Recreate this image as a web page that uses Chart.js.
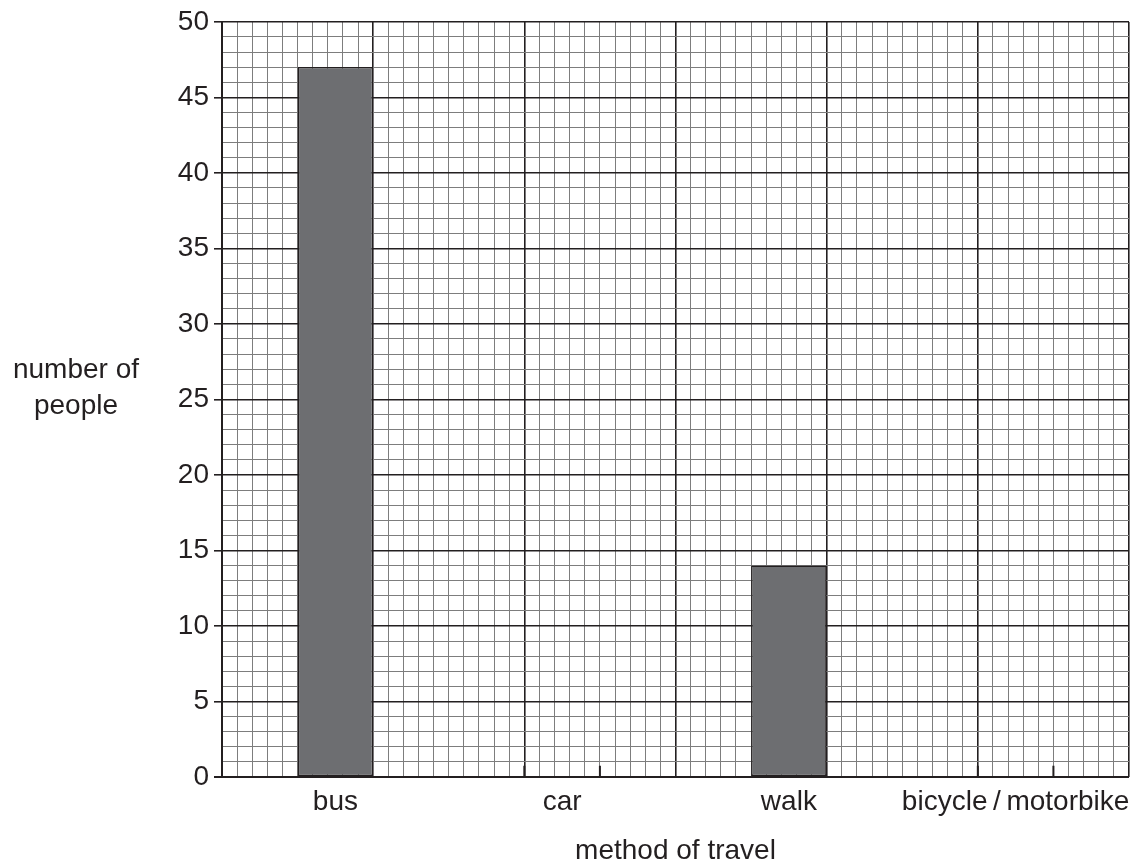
<!DOCTYPE html>
<html>
<head>
<meta charset="utf-8">
<script src="https://cdn.jsdelivr.net/npm/chart.js@4.4.1/dist/chart.umd.min.js"></script>
<style>
  html, body { margin: 0; padding: 0; background: #fff; }
  #wrap { width: 1131px; height: 868px; }
</style>
</head>
<body>
<div id="wrap"><canvas id="grafica"></canvas></div>
<script>
// datos
const categorias = ["bus", "car", "walk", "bicycle\u2009/\u2009motorbike"];
const personas = [47, 0, 14, 0];
const yTicks = [0, 5, 10, 15, 20, 25, 30, 35, 40, 45, 50];

const tinta = "#231f20";
const gris = "#7d7d7d";
const fuente = "'Liberation Sans', Arial, Helvetica, sans-serif";

// titulo horizontal del eje y + marcas de valor cero
const extras = {
    id: "extras",
    afterDatasetsDraw(chart) {
        const ctx = chart.ctx;
        const y = chart.scales.y;
        const meta = chart.getDatasetMeta(0);
        ctx.save();
        ctx.strokeStyle = tinta;
        ctx.lineWidth = 2;
        meta.data.forEach((barra, i) => {
            if (personas[i] !== 0) return;
            const izq = barra.x - barra.width / 2;
            const der = barra.x + barra.width / 2;
            const base = y.getPixelForValue(0);
            const alto = y.getPixelForValue(0.75);
            ctx.beginPath();
            ctx.moveTo(izq, alto);
            ctx.lineTo(izq, base);
            ctx.lineTo(der, base);
            ctx.lineTo(der, alto);
            ctx.stroke();
        });
        // texto eje y
        ctx.fillStyle = tinta;
        ctx.font = "28px " + fuente;
        ctx.textAlign = "center";
        ctx.textBaseline = "middle";
        ctx.fillText("number of", 76, 370);
        ctx.fillText("people", 76, 406);
        ctx.restore();
    }
};

let ctxGrafica = document.getElementById("grafica").getContext("2d");
let opciones = {
    type: "bar",
    data: {
        labels: categorias,
        datasets: [{
            label: "number of people",
            data: personas,
            backgroundColor: "#6d6e71",
            borderColor: tinta,
            borderWidth: 1.5,
            borderSkipped: false,
            barPercentage: 1,
            categoryPercentage: 1 / 3,
            xAxisID: "x"
        }]
    },
    options: {
        responsive: true,
        maintainAspectRatio: false,
        animation: false,
        layout: { padding: { top: 21, right: 2, left: 0, bottom: 0 } },
        plugins: {
            legend: { display: false },
            tooltip: { enabled: false }
        },
        scales: {
            x: {
                type: "category",
                position: "bottom",
                afterFit: (eje) => {
                    eje.height = 91;
                    eje.paddingLeft = 0;
                    eje.paddingRight = 0;
                },
                grid: { display: false },
                border: { display: false },
                ticks: {
                    color: tinta,
                    font: { family: fuente, size: 28 },
                    padding: 0,
                    maxRotation: 0,
                    autoSkip: false
                },
                title: {
                    display: true,
                    text: "method of travel",
                    color: tinta,
                    font: { family: fuente, size: 28 },
                    padding: { top: 16, bottom: 0 }
                }
            },
            // eje oculto solo para la cuadricula vertical
            x2: {
                type: "linear",
                position: "top",
                min: 0,
                max: 60,
                offset: false,
                afterBuildTicks: (eje) => {
                    eje.ticks = [];
                    for (let v = 0; v <= 60; v++) eje.ticks.push({ value: v });
                },
                afterFit: (eje) => { eje.height = 0; },
                ticks: { display: false },
                border: { display: false },
                grid: {
                    offset: false,
                    drawTicks: false,
                    color: (c) => (c.tick && c.tick.value % 10 === 0) ? tinta : gris,
                    lineWidth: (c) => (c.tick && c.tick.value % 10 === 0) ? 1.6 : 1
                }
            },
            y: {
                min: 0,
                max: 50,
                afterBuildTicks: (eje) => {
                    eje.ticks = [];
                    for (let v = 0; v <= 50; v++) eje.ticks.push({ value: v });
                },
                afterFit: (eje) => { eje.width = 222; },
                ticks: {
                    color: tinta,
                    font: { family: fuente, size: 28 },
                    padding: 5,
                    autoSkip: false,
                    callback: (v) => yTicks.includes(v) ? String(v) : ""
                },
                border: { display: true, color: tinta, width: 2 },
                grid: {
                    drawTicks: true,
                    tickLength: 8,
                    tickColor: (c) => (c.tick && c.tick.value % 5 === 0) ? tinta : "rgba(0,0,0,0)",
                    color: (c) => (c.tick && c.tick.value % 5 === 0) ? tinta : gris,
                    lineWidth: (c) => (c.tick && c.tick.value === 0) ? 2 : ((c.tick && c.tick.value % 5 === 0) ? 1.6 : 1)
                }
            }
        }
    },
    plugins: [extras]
};
let graficaBarras = new Chart(ctxGrafica, opciones);
</script>
</body>
</html>
